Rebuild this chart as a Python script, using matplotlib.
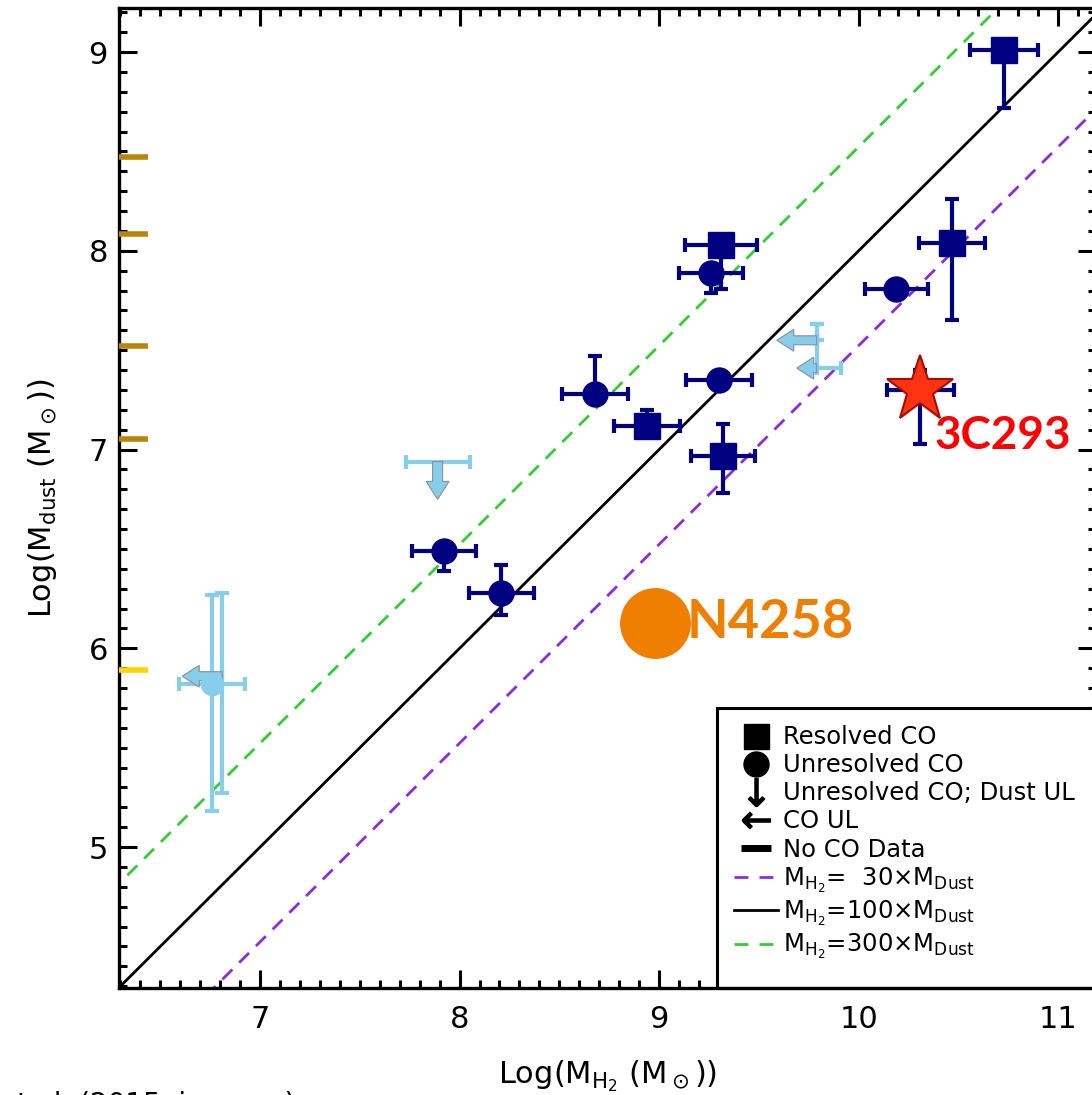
import matplotlib
matplotlib.use("Agg")
import matplotlib.pyplot as plt
from matplotlib.lines import Line2D
from matplotlib.patches import Rectangle
import numpy as np

plt.rcParams['font.family'] = ['DejaVu Sans']
plt.rcParams['mathtext.default'] = 'regular'

# Resolved CO (squares)
sq_x = [10.73, 10.47, 9.31, 8.94, 9.32]
sq_y = [9.01, 8.04, 8.03, 7.12, 6.97]
sq_xerr = [0.17, 0.165, 0.18, 0.165, 0.16]
sq_ylo = [0.29, 0.39, 0.22, 0.03, 0.19]
sq_yhi = [0.0, 0.22, 0.03, 0.08, 0.16]

# Unresolved CO (circles)
ci_x = [9.26, 10.19, 8.68, 9.30, 7.92, 8.21]
ci_y = [7.89, 7.81, 7.28, 7.35, 6.49, 6.28]
ci_xerr = [0.16, 0.16, 0.165, 0.165, 0.16, 0.165]
ci_ylo = [0.10, 0.0, 0.0, 0.04, 0.10, 0.11]
ci_yhi = [0.0, 0.0, 0.19, 0.04, 0.0, 0.14]

# light blue circle with big dust errors
lb_x = [6.76]
lb_y = [5.82]
lb_xerr = [0.165]
lb_ylo = [0.64]
lb_yhi = [0.45]

# Unresolved CO; dust upper limit
dul_x = [7.89]
dul_y = [6.94]
dul_xerr = [0.16]
dul_len = [0.19]

# CO upper limits
coul_x = [6.81, 9.79, 9.79]
coul_y = [5.86, 7.55, 7.41]
coul_len = [0.20, 0.20, 0.10]
coul_xhi = [0.0, 0.0, 0.12]
coul_ylo = [0.59, 0.0, 0.0]
coul_yhi = [0.42, 0.08, 0.22]

# No CO data (marks on the y axis)
noco_y = [8.47, 8.085, 7.52, 7.055, 5.89]
noco_col = ['#B8860B', '#B8860B', '#B8860B', '#B8860B', '#FFD400']

# special sources
star_x, star_y = 10.31, 7.30
star_xerr, star_ylo, star_yhi = 0.17, 0.27, 0.10
n4258_x, n4258_y = 8.98, 6.13

# ratio lines: offsets in log
line_x = [6.0, 11.5]
off_30 = np.log10(300)   # purple, labelled 30x
off_100 = np.log10(100)  # black
off_300 = np.log10(30)   # green, labelled 300x

navy = '#000080'
sky = '#87CEEB'

fig = plt.figure(figsize=(10.92, 10.95), dpi=100)
ax = fig.add_axes([119 / 1092, 107 / 1095, (1096 - 119) / 1092, 980 / 1095])
ax.set_xlim(6.293, 11.19)
ax.set_ylim(4.291, 9.222)

lx = np.array(line_x)
ax.plot(lx, lx - off_30, color='#8A2BE2', lw=2, dashes=(5, 3.5), zorder=1)
ax.plot(lx, lx - off_100, color='black', lw=2, zorder=1)
ax.plot(lx, lx - off_300, color='#32CD32', lw=2, dashes=(5, 3.5), zorder=1)

# light blue points
ax.errorbar(lb_x, lb_y, xerr=lb_xerr, yerr=[lb_ylo, lb_yhi], fmt='o', ms=16,
            color=sky, ecolor=sky, elinewidth=3, capsize=5, capthick=3, zorder=3)
ax.errorbar(dul_x, dul_y, xerr=dul_xerr, fmt='none', ecolor=sky,
            elinewidth=3, capsize=5, capthick=3, zorder=3)
for x, y, l in zip(dul_x, dul_y, dul_len):
    ax.arrow(x, y, 0, -l, width=0.05, head_width=0.115, head_length=0.09,
             length_includes_head=True, fc=sky, ec='#8c8c9c', lw=0.8, zorder=3)
ax.errorbar(coul_x, coul_y, xerr=[[0] * len(coul_x), coul_xhi],
            yerr=[coul_ylo, coul_yhi], fmt='none', ecolor=sky,
            elinewidth=3, capsize=5, capthick=3, zorder=3)
for x, y, l in zip(coul_x, coul_y, coul_len):
    ax.arrow(x, y, -l, 0, width=0.045, head_width=0.11, head_length=0.085,
             length_includes_head=True, fc=sky, ec='#8c8c9c', lw=0.8, zorder=3)

# navy points
ax.errorbar(sq_x, sq_y, xerr=sq_xerr, yerr=[sq_ylo, sq_yhi], fmt='s', ms=19,
            color=navy, ecolor=navy, elinewidth=3, capsize=5, capthick=3, zorder=4)
ax.errorbar(ci_x, ci_y, xerr=ci_xerr, yerr=[ci_ylo, ci_yhi], fmt='o', ms=18,
            color=navy, ecolor=navy, elinewidth=3, capsize=5, capthick=3, zorder=4)

# 3C293
ax.errorbar([star_x], [star_y], xerr=[star_xerr], yerr=[[star_ylo], [star_yhi]],
            fmt='none', ecolor=navy, elinewidth=3, capsize=5, capthick=3, zorder=4)
ax.plot([star_x], [star_y], marker='*', ms=50, color='#FF3311', mec='#A01000',
        mew=1.5, ls='', zorder=5)
ax.text(star_x + 0.07, star_y - 0.23, '3C293', color='#FF0000', fontsize=33,
        fontweight='bold', family='Lato', va='center', ha='left', zorder=5)

# N4258
ax.plot([n4258_x], [n4258_y], marker='o', ms=50, color='#EF7F00', ls='', zorder=4)
ax.text(n4258_x + 0.16, n4258_y, 'N4258', color='#EF7F00', fontsize=39,
        fontweight='bold', family='Lato', va='center', ha='left', zorder=5)

# no CO data marks on the y axis
ax.hlines(noco_y, 0, 0.03, colors=noco_col, lw=4, transform=ax.get_yaxis_transform(),
          zorder=6, clip_on=False)

ax.set_xticks([7, 8, 9, 10, 11])
ax.set_yticks([5, 6, 7, 8, 9])
ax.xaxis.set_minor_locator(matplotlib.ticker.MultipleLocator(0.1))
ax.yaxis.set_minor_locator(matplotlib.ticker.MultipleLocator(0.1))
ax.tick_params(which='both', direction='in', top=True, right=True, width=2.2)
ax.tick_params(which='major', length=13, labelsize=22)
ax.tick_params(which='minor', length=6)
ax.tick_params(axis='x', pad=12)
ax.tick_params(axis='y', pad=8)
for s in ax.spines.values():
    s.set_linewidth(2.4)

ax.set_xlabel(r'Log(M$_{H_2}$ (M$_\odot$))', fontsize=22, labelpad=18)
ax.set_ylabel(r'Log(M$_{dust}$ (M$_\odot$))', fontsize=22, labelpad=21)

# legend box (runs past the right edge like the original)
box = Rectangle((0.612, 0.0), 0.6, 0.2857, transform=ax.transAxes, fc='white',
                ec='black', lw=2.2, zorder=2.2, clip_on=False)
ax.add_patch(box)

handles = [
    Line2D([], [], marker='s', color='k', ls='', ms=18),
    Line2D([], [], marker='o', color='k', ls='', ms=18),
    Line2D([], [], marker=r'$\downarrow$', color='k', ls='', ms=20),
    Line2D([], [], marker=r'$\leftarrow$', color='k', ls='', ms=20),
    Line2D([], [], marker='_', color='k', ls='', ms=22, mew=5),
    Line2D([], [], color='#8A2BE2', lw=2, dashes=(5, 4)),
    Line2D([], [], color='black', lw=2),
    Line2D([], [], color='#32CD32', lw=2, dashes=(5, 4)),
]
labels = ['Resolved CO', 'Unresolved CO', 'Unresolved CO; Dust UL', 'CO UL',
          'No CO Data',
          r'M$_{H_2}$=  30×M$_{Dust}$',
          r'M$_{H_2}$=100×M$_{Dust}$',
          r'M$_{H_2}$=300×M$_{Dust}$']
leg = ax.legend(handles, labels, loc='upper left', bbox_to_anchor=(0.612, 0.2857),
                fontsize=17.5, frameon=False, handlelength=1.8, handletextpad=0.2,
                labelspacing=0.17, borderaxespad=0, borderpad=0.7)
leg.set_zorder(2.3)

fig.text(0.0, 4 / 1095, 'et al. (2015, in prep.)', fontsize=20, va='top', ha='left')

fig.savefig('out.png', dpi=100)
